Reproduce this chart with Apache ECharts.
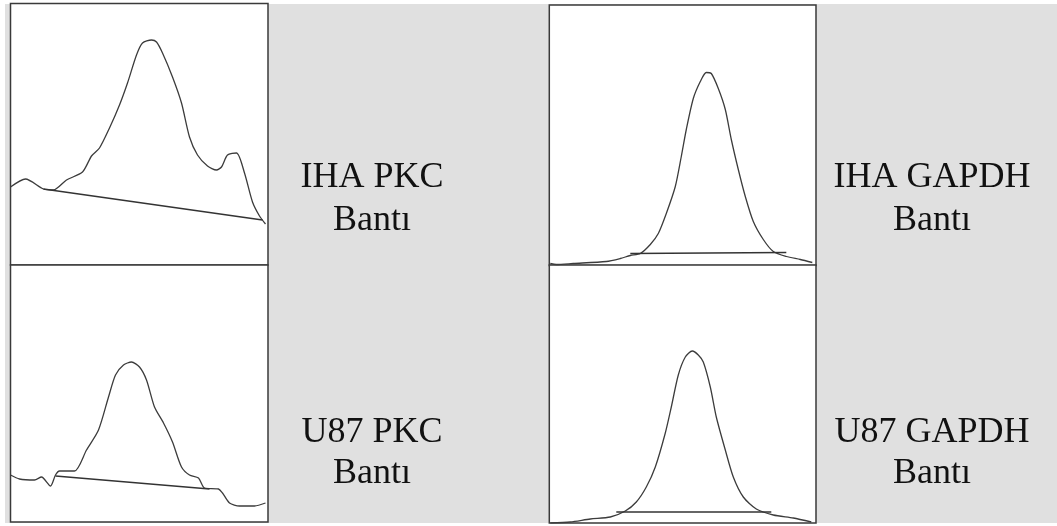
<!DOCTYPE html>
<html>
<head>
<meta charset="utf-8">
<script src="https://cdn.jsdelivr.net/npm/echarts@6/dist/echarts.min.js"></script>
<style>
html,body{margin:0;padding:0;background:#fff;}
#chart{width:1057px;height:526px;}
</style>
</head>
<body>
<div id="chart"></div>
<script>
// Densitometry profiles: [position, intensity]
const ihaPkcProfile = [[0,78],[15,86],[33,76],[43,75],[56,85],[72,93],[81,109],[89,117],[99,137],[109,160],[117,182],[126,210],[132,222],[141,225],[146,223],[152,212],[162,188],[171,162],[179,128],[187,110],[197,99],[206,95],[211,98],[217,110],[226,112],[234,92],[242,63],[249,49],[255,41]];
const ihaPkcBaseline = [[33,76],[252,45]];
const u87PkcProfile = [[0,47],[9,43],[24,42],[31,45],[40,36],[45,47],[49,51],[64,51],[76,72],[88,92],[98,125],[105,147],[113,157],[121,160],[129,155],[136,142],[144,115],[153,99],[162,80],[171,55],[179,47],[188,44],[194,34],[208,33],[212,29],[219,19],[229,16],[244,16],[255,19]];
const u87PkcBaseline = [[45,46],[199,33]];
const ihaGapdhProfile = [[1,2],[7,1],[24,2],[57,4],[71,7],[81,10],[91,12],[101,21],[109,32],[117,52],[126,79],[132,109],[137,136],[144,167],[151,184],[157,193],[162,192],[169,177],[176,156],[182,126],[189,96],[196,69],[204,44],[214,26],[224,14],[237,9],[251,6],[263,3]];
const ihaGapdhBaseline = [[81,12],[237,13]];
const u87GapdhProfile = [[1,0],[21,1],[41,4],[61,6],[76,12],[87,21],[97,36],[106,56],[116,90],[122,116],[129,148],[136,166],[143,172],[149,168],[154,161],[161,136],[167,106],[176,73],[184,46],[194,26],[207,14],[224,8],[244,5],[262,1]];
const u87GapdhBaseline = [[67,11],[222,11]];
const panelLabels = ['IHA PKC\nBantı', 'U87 PKC\nBantı', 'IHA GAPDH\nBantı', 'U87 GAPDH\nBantı'];

const panels = [
  {profile: ihaPkcProfile, base: ihaPkcBaseline, left: 10.5, top: 3.5, width: 257.5, height: 261.5},
  {profile: u87PkcProfile, base: u87PkcBaseline, left: 10.5, top: 265, width: 257.5, height: 257},
  {profile: ihaGapdhProfile, base: ihaGapdhBaseline, left: 549.3, top: 5, width: 266.7, height: 260.5},
  {profile: u87GapdhProfile, base: u87GapdhBaseline, left: 549.3, top: 265, width: 266.7, height: 258}
];
const labelPos = [
  {x: 372, y: 156, lh: 43},
  {x: 372, y: 412, lh: 41},
  {x: 932, y: 156, lh: 43},
  {x: 932, y: 412, lh: 41}
];

const chart = echarts.init(document.getElementById('chart'), null, {renderer: 'canvas'});
const grids = [], xAxes = [], yAxes = [], series = [];
panels.forEach((p, i) => {
  grids.push({left: p.left, top: p.top, width: p.width, height: p.height, show: true,
    backgroundColor: '#ffffff', borderColor: '#3a3a3a', borderWidth: 1.5, z: 2});
  xAxes.push({type: 'value', gridIndex: i, min: 0, max: p.width, show: false});
  yAxes.push({type: 'value', gridIndex: i, min: 0, max: p.height, show: false});
  series.push({type: 'line', xAxisIndex: i, yAxisIndex: i, data: p.profile, symbol: 'none',
    smooth: 0.25, lineStyle: {color: '#3c3c3c', width: 1.3}, z: 3, silent: true});
  series.push({type: 'line', xAxisIndex: i, yAxisIndex: i, data: p.base, symbol: 'none',
    lineStyle: {color: '#333333', width: 1.5}, z: 3, silent: true});
});

const graphic = [{
  type: 'rect', z: -10, silent: true,
  shape: {x: 5, y: 4, width: 1052, height: 519},
  style: {fill: '#e0e0e0'}
}];
panelLabels.forEach((t, i) => {
  graphic.push({type: 'text', z: 10, silent: true, x: labelPos[i].x, y: labelPos[i].y,
    style: {text: t, fill: '#111', font: '36px "Liberation Serif", "Times New Roman", serif',
      align: 'center', verticalAlign: 'top', lineHeight: labelPos[i].lh}});
});

chart.setOption({
  animation: false,
  backgroundColor: '#ffffff',
  grid: grids,
  xAxis: xAxes,
  yAxis: yAxes,
  series: series,
  graphic: graphic
});
</script>
</body>
</html>
